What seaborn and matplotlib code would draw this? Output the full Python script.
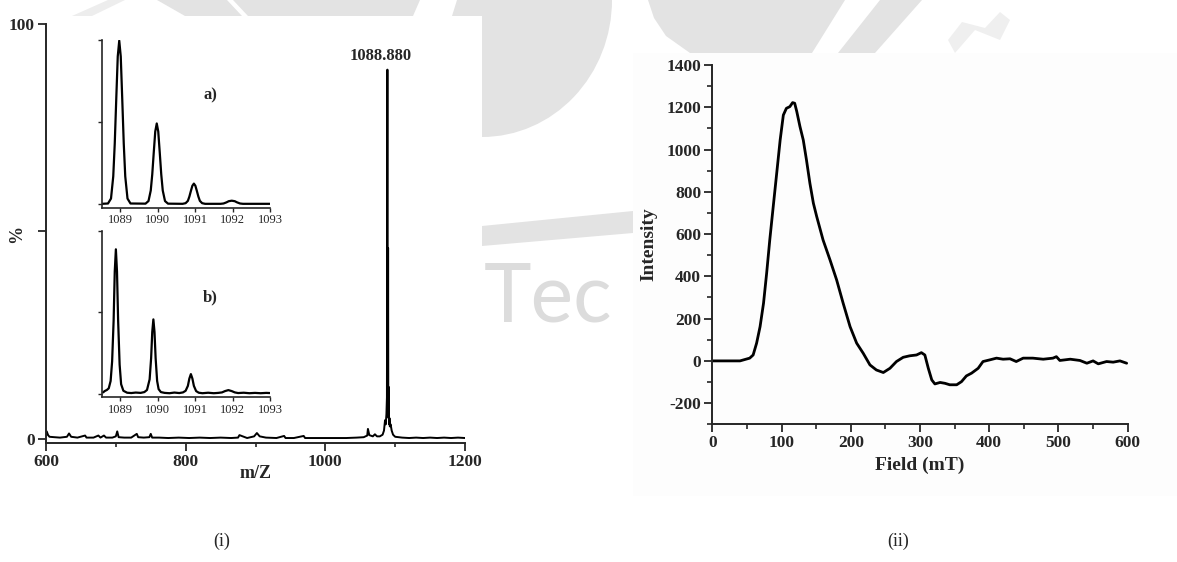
import matplotlib
matplotlib.use("Agg")
import matplotlib.pyplot as plt
import seaborn as sns
import numpy as np
from matplotlib.patches import Rectangle, Polygon, Ellipse

# ---------------- data ----------------
# (i) main ESI mass spectrum (m/z, relative %)
mz_main = [600, 601, 603, 605, 612, 620, 630, 633, 636, 645, 656, 658, 668, 675, 678,
           683, 686, 695, 700, 702, 704, 712, 722, 730, 732, 740, 748, 750, 752, 762,
           775, 790, 805, 820, 835, 850, 865, 875, 877, 888, 898, 902, 906, 915, 930,
           941, 943, 955, 969, 971, 985, 1000, 1015, 1030, 1045, 1055, 1060, 1061, 1063, 1068,
           1071, 1074, 1078, 1082, 1084, 1085.5, 1086.5, 1087.5, 1088.2, 1088.88, 1089.3, 1089.6, 1089.88, 1090.2, 1090.6,
           1090.88, 1091.2, 1091.6, 1091.88, 1092.3, 1093.5, 1095, 1097, 1100, 1110, 1120, 1130, 1140, 1150, 1160,
           1170, 1180, 1190, 1200]
int_main = [0.6, 1.8, 0.9, 0.5, 0.4, 0.3, 0.5, 1.3, 0.5, 0.3, 0.8, 0.3, 0.3, 0.8, 0.3,
            0.8, 0.3, 0.3, 0.6, 1.8, 0.4, 0.3, 0.3, 1.2, 0.4, 0.3, 0.4, 1.2, 0.3, 0.3,
            0.2, 0.3, 0.2, 0.3, 0.2, 0.3, 0.2, 0.3, 0.9, 0.2, 0.6, 1.4, 0.6, 0.3, 0.2,
            0.7, 0.2, 0.2, 0.7, 0.2, 0.2, 0.2, 0.2, 0.2, 0.3, 0.4, 0.8, 2.4, 0.9, 0.6,
            1.1, 0.6, 0.6, 1.0, 2.0, 4.5, 3.5, 6.0, 10.0, 89.0, 8.0, 6.0, 46.0, 6.0, 5.0,
            12.5, 4.5, 3.5, 5.0, 3.0, 3.5, 2.0, 1.0, 0.5, 0.3, 0.2, 0.3, 0.2, 0.3, 0.2,
            0.3, 0.2, 0.3, 0.2]

# inset a) isotope pattern (theoretical)
mz_a = [1088.52, 1088.68, 1088.76, 1088.82, 1088.86, 1088.90, 1088.94, 1088.98, 1089.02, 1089.06, 1089.10, 1089.14, 1089.20, 1089.28,
        1089.68, 1089.76, 1089.82, 1089.86, 1089.90, 1089.94, 1089.98, 1090.02, 1090.06, 1090.10, 1090.14, 1090.20, 1090.28,
        1090.67, 1090.75, 1090.81, 1090.85, 1090.89, 1090.93, 1090.97, 1091.01, 1091.05, 1091.09, 1091.13, 1091.19, 1091.27,
        1091.68, 1091.76, 1091.84, 1091.90, 1091.98, 1092.06, 1092.12, 1092.20, 1092.28, 1093.0]
int_a = [0.3, 0.5, 3.5, 17, 37, 64, 90, 99.6, 90, 64, 37, 17, 3.5, 0.5,
         0.4, 2.0, 8.4, 18.2, 31.5, 44.3, 49.2, 44.3, 31.5, 18.2, 8.4, 2.0, 0.4,
         0.3, 0.7, 2.1, 4.7, 8.1, 11.3, 12.6, 11.3, 8.1, 4.7, 2.1, 0.7, 0.3,
         0.3, 0.5, 1.2, 1.9, 2.2, 1.9, 1.2, 0.5, 0.3, 0.3]

# inset b) isotope pattern (experimental)
mz_b = [1088.55, 1088.59, 1088.65, 1088.70, 1088.75, 1088.79, 1088.83, 1088.86, 1088.89, 1088.92, 1088.95, 1088.99, 1089.03, 1089.09, 1089.19,
        1089.30, 1089.42, 1089.55, 1089.65, 1089.72, 1089.79, 1089.83, 1089.86, 1089.89, 1089.92, 1089.95, 1089.99, 1090.03, 1090.09, 1090.19,
        1090.32, 1090.45, 1090.58, 1090.68, 1090.75, 1090.81, 1090.85, 1090.89, 1090.93, 1090.97, 1091.03, 1091.10, 1091.20,
        1091.35, 1091.50, 1091.62, 1091.72, 1091.80, 1091.89, 1091.98, 1092.06, 1092.15, 1092.30, 1092.45, 1092.60, 1092.75, 1092.90, 1093.0]
int_b = [1.0, 1.8, 2.5, 3.5, 8, 20, 45, 75, 88.6, 75, 45, 18, 6, 2, 0.8,
         0.6, 0.9, 0.7, 1.2, 2.5, 9, 22, 38, 45.7, 38, 22, 8, 3, 1.2, 0.7,
         0.5, 0.9, 0.6, 1.0, 2.0, 5, 9.5, 12.2, 9.5, 5, 1.8, 0.8, 0.5,
         0.8, 0.5, 0.7, 1.0, 1.8, 2.4, 1.8, 1.0, 0.6, 0.8, 0.5, 0.7, 0.5, 0.7, 0.6]

# (ii) field sweep
field = [0, 40, 54, 59, 64, 69, 74, 78.5, 83, 88, 93, 98, 102.6, 107, 112, 116, 119, 122,
         126.6, 131.4, 136, 141, 146, 150.8, 160, 170, 179.6, 189, 199, 208.5, 218, 227.7,
         237, 247, 256.6, 266, 275.7, 285, 295, 302, 307, 312, 317, 321.5, 329, 336, 343,
         353, 360, 367, 374.5, 384, 391, 401, 410.5, 420, 430, 439, 449, 463, 478, 492,
         497, 502, 517, 531, 541, 550, 557.5, 569.5, 579, 588.8, 598.5]
intensity = [0, 0, 13, 28, 84, 162, 273, 415, 572, 730, 887, 1045, 1163, 1195, 1203, 1222, 1219, 1180,
             1109, 1045, 951, 840, 746, 683, 572, 478, 383, 273, 162, 84, 36, -19,
             -43, -55, -35, -3, 17, 24, 28, 39, 28, -35, -90, -109, -102, -106, -113,
             -113, -98, -71, -58, -35, -3, 5, 13, 8, 10, -3, 13, 13, 8, 13,
             20, 2, 8, 2, -11, 0, -14, -3, -6, 0, -11]

main_xticks = [600, 800, 1000, 1200]
main_yticks = [0, 50, 100]
main_yticklabels = ["0", "", "100"]
inset_xticks = [1089, 1090, 1091, 1092, 1093]
epr_xticks = [0, 100, 200, 300, 400, 500, 600]
epr_yticks = [-200, 0, 200, 400, 600, 800, 1000, 1200, 1400]

# ---------------- style ----------------
sns.set_theme(style="ticks")
plt.rcParams["font.family"] = ["Liberation Serif", "DejaVu Serif"]
plt.rcParams["axes.linewidth"] = 1.4
plt.rcParams["axes.unicode_minus"] = False

W, H = 1177, 562
fig = plt.figure(figsize=(W / 100, H / 100), dpi=100)
fig.patch.set_facecolor("white")


def fr(left, top, right, bottom):
    return [left / W, 1 - bottom / H, (right - left) / W, (bottom - top) / H]


# ---------- faint watermark background (pixel coordinates) ----------
bg = fig.add_axes([0, 0, 1, 1], zorder=-10)
bg.set_xlim(0, W)
bg.set_ylim(H, 0)
bg.axis("off")
wm = "#e3e3e3"
bg.add_patch(Polygon([(72, 16), (92, 16), (125, 0), (108, 0)], closed=True, color="#ededed", lw=0, zorder=1))
bg.add_patch(Polygon([(157, 0), (227, 0), (242, 16), (185, 16)], closed=True, color=wm, lw=0, zorder=1))
bg.add_patch(Polygon([(233, 0), (420, 0), (413, 16), (248, 16)], closed=True, color=wm, lw=0, zorder=1))
bg.add_patch(Polygon([(457, 0), (482, 0), (482, 16), (452, 16)], closed=True, color=wm, lw=0, zorder=1))
logo = Ellipse((482, 0), 260, 274, color=wm, lw=0, zorder=1)
bg.add_patch(logo)
clip = Rectangle((482, 0), 200, 200, transform=bg.transData)
logo.set_clip_path(clip)
bg.add_patch(Polygon([(482, 226), (633, 211), (633, 233), (482, 246)], closed=True, color=wm, lw=0, zorder=1))
bg.add_patch(Polygon([(648, 0), (845, 0), (812, 53), (690, 53), (666, 36), (654, 18)],
                     closed=True, color=wm, lw=0, zorder=1))
bg.add_patch(Polygon([(880, 0), (922, 0), (875, 53), (838, 53)], closed=True, color=wm, lw=0, zorder=1))
bg.add_patch(Polygon([(955, 53), (975, 30), (1000, 40), (1010, 20), (1000, 12), (985, 28), (962, 22), (948, 40)],
                     closed=True, color="#efefef", lw=0, zorder=1))
bg.text(484, 322, "Tec", fontsize=58, color="#dcdcdc", family=["Lato", "DejaVu Sans"],
        fontweight="normal", ha="left", va="baseline", zorder=1.5)
# white panels
bg.add_patch(Rectangle((0, 16), 482, 480, color="white", lw=0, zorder=2))
bg.add_patch(Rectangle((633, 53), W - 633, 443, color="#fdfdfd", lw=0, zorder=2))

# ---------- (i) main spectrum ----------
ax1 = fig.add_axes(fr(46, 24, 465, 443))
sns.lineplot(x=mz_main, y=int_main, ax=ax1, color="black", linewidth=1.4,
             sort=False, estimator=None)
ax1.set_xlim(600, 1200)
ax1.set_ylim(-1, 100)
ax1.set_xticks(main_xticks)
ax1.set_xticks([700, 900, 1100], minor=True)
ax1.set_yticks(main_yticks)
ax1.set_yticklabels(main_yticklabels)
for s in ["top", "right"]:
    ax1.spines[s].set_visible(False)
ax1.tick_params(axis="both", which="major", direction="out", length=6, width=1.3,
                labelsize=12.5, pad=2)
ax1.tick_params(axis="both", which="minor", direction="out", length=3, width=1.2)
for lab in ax1.get_xticklabels() + ax1.get_yticklabels():
    lab.set_fontweight("bold")
ax1.set_xlabel("m/Z", fontsize=13, fontweight="bold", labelpad=-4)
ax1.set_ylabel("%", fontsize=13, fontweight="bold")
ax1.yaxis.set_label_coords(-0.05, 0.5)
ax1.annotate("1088.880", xy=(1088.88, 89), xytext=(-5, 4), textcoords="offset points",
             ha="center", va="bottom", fontsize=12, fontweight="bold")
ax1.patch.set_alpha(0)


def style_inset(ax, label, label_y):
    ax.set_xlim(1088.52, 1093)
    ax.set_ylim(-2, 100)
    ax.set_xticks(inset_xticks)
    ax.set_yticks([0, 50, 100])
    ax.set_yticklabels([])
    for s in ["top", "right"]:
        ax.spines[s].set_visible(False)
    ax.spines["left"].set_linewidth(1.2)
    ax.spines["bottom"].set_linewidth(1.2)
    ax.tick_params(axis="both", direction="out", length=3, width=1.0, labelsize=9, pad=1.5)
    ax.set_xlabel("")
    ax.set_ylabel("")
    ax.patch.set_alpha(0)
    ax.text(1091.4, label_y, label, fontsize=12, fontweight="bold", ha="center", va="center")


ax_a = fig.add_axes(fr(102, 40, 270, 207.6))
sns.lineplot(x=mz_a, y=int_a, ax=ax_a, color="black", linewidth=1.6, sort=False, estimator=None)
style_inset(ax_a, "a)", 66)

ax_b = fig.add_axes(fr(102, 230.7, 270, 397.3))
sns.lineplot(x=mz_b, y=int_b, ax=ax_b, color="black", linewidth=1.6, sort=False, estimator=None)
style_inset(ax_b, "b)", 59)

# ---------- (ii) field sweep ----------
ax2 = fig.add_axes(fr(712.3, 65, 1127.7, 424.3))
sns.lineplot(x=field, y=intensity, ax=ax2, color="black", linewidth=2.0, sort=False, estimator=None)
ax2.set_xlim(0, 600)
ax2.set_ylim(-300, 1400)
ax2.set_xticks(epr_xticks)
ax2.set_xticks(np.arange(50, 600, 100), minor=True)
ax2.set_yticks(epr_yticks)
ax2.set_yticks(np.arange(-300, 1400, 200), minor=True)
for s in ["top", "right"]:
    ax2.spines[s].set_visible(False)
ax2.tick_params(axis="both", which="major", direction="out", length=6, width=1.3,
                labelsize=12.5, pad=2)
ax2.tick_params(axis="both", which="minor", direction="out", length=3.5, width=1.2)
for lab in ax2.get_xticklabels() + ax2.get_yticklabels():
    lab.set_fontweight("bold")
ax2.set_xlabel("Field (mT)", fontsize=14, fontweight="bold", labelpad=4)
ax2.set_ylabel("Intensity", fontsize=14, fontweight="bold")
ax2.yaxis.set_label_coords(-0.132, 0.5)
ax2.patch.set_alpha(0)

# panel labels
fig.text(222 / W, 1 - 541 / H, "(i)", fontsize=13, ha="center", va="center")
fig.text(898 / W, 1 - 541 / H, "(ii)", fontsize=13, ha="center", va="center")

fig.savefig("out.png", dpi=100, facecolor="white")
